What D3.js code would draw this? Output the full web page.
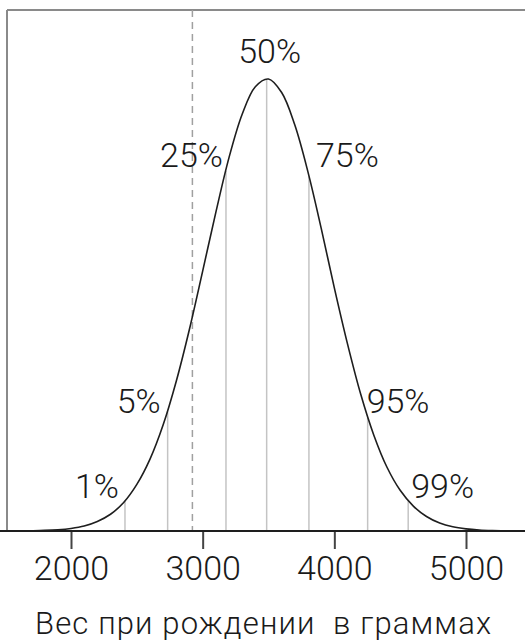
<!DOCTYPE html>
<html>
<head>
<meta charset="utf-8">
<script src="https://cdn.jsdelivr.net/npm/d3@7"></script>
<style>
  html, body { margin: 0; padding: 0; background: #fff; }
  svg { display: block; }
  text { font-family: Roboto, "DejaVu Sans", sans-serif; font-weight: 300; fill: #1a1a1a; }
</style>
</head>
<body>
<svg id="chart" width="525" height="642"></svg>
<script>
// ---- Data ----
// Birth weight (g) and relative density of the bell curve (peak = 1)
const curveWeights = [1500,1600,1700,1800,1900,2000,2100,2200,2300,2400,2500,2600,2700,2800,2900,
  3000,3100,3200,3300,3400,3500,3600,3700,3800,3900,4000,4100,4200,4300,4400,4500,4600,4700,4800,
  4900,5000,5100,5200,5300,5400,5500];
const curveDensity = [0.0001,0.0002,0.0006,0.0013,0.0028,0.0057,0.011,0.021,0.037,0.063,0.103,0.159,
  0.235,0.332,0.447,0.575,0.705,0.826,0.922,0.983,1.0,0.970,0.898,0.794,0.670,0.538,0.414,0.303,
  0.212,0.141,0.090,0.055,0.032,0.0175,0.0092,0.0047,0.0022,0.0010,0.00045,0.0002,0.0001];

// Percentile markers
const percentileLabels = ["1%","5%","25%","50%","75%","95%","99%"];
const percentileWeights = [2410, 2734, 3177, 3486, 3807, 4253, 4561];

// Dashed reference line
const dashedWeight = 2922;

// Axis ticks
const tickValues = [2000, 3000, 4000, 5000];
const axisTitle = "Вес при рождении  в граммах";

// ---- Layout ----
const svg = d3.select("#chart");
const x = d3.scaleLinear().domain([2000, 5000]).range([71, 466]);
const y = d3.scaleLinear().domain([0, 1]).range([531, 79]);
const frameLeft = 7, frameTop = 10, right = 525, baseY = y(0);

const pts = curveWeights.map((w, i) => [w, curveDensity[i]]);
const densityAt = w => {
  const i = d3.bisector(d => d[0]).left(pts, w);
  if (i <= 0) return pts[0][1];
  const a = pts[i - 1], b = pts[i];
  const t = (w - a[0]) / (b[0] - a[0]);
  return Math.exp(Math.log(a[1]) * (1 - t) + Math.log(b[1]) * t);
};

svg.append("clipPath").attr("id", "clip")
  .append("rect").attr("x", frameLeft).attr("y", frameTop).attr("width", right - frameLeft).attr("height", baseY - frameTop);

// frame
svg.append("line").attr("x1", frameLeft).attr("x2", right).attr("y1", frameTop).attr("y2", frameTop)
  .attr("stroke", "#8a8a8a").attr("stroke-width", 2);
svg.append("line").attr("x1", frameLeft).attr("x2", frameLeft).attr("y1", frameTop).attr("y2", baseY)
  .attr("stroke", "#8a8a8a").attr("stroke-width", 2);

// dashed line
svg.append("line").attr("x1", x(dashedWeight)).attr("x2", x(dashedWeight))
  .attr("y1", frameTop).attr("y2", baseY)
  .attr("stroke", "#a0a0a0").attr("stroke-width", 1.5).attr("stroke-dasharray", "7,5");

// percentile verticals
svg.append("g").selectAll("line").data(percentileWeights).join("line")
  .attr("x1", d => x(d)).attr("x2", d => x(d))
  .attr("y1", baseY).attr("y2", d => y(densityAt(d)))
  .attr("stroke", "#c4c4c4").attr("stroke-width", 1.5);

// curve
const line = d3.line().x(d => x(d[0])).y(d => y(d[1])).curve(d3.curveCatmullRom);
svg.append("path").datum(pts).attr("d", line)
  .attr("clip-path", "url(#clip)")
  .attr("fill", "none").attr("stroke", "#1e1e1e").attr("stroke-width", 1.6);

// baseline axis
const axis = d3.axisBottom(x).tickValues(tickValues).tickSize(18).tickPadding(7).tickFormat(d3.format("d"));
const gAxis = svg.append("g").attr("transform", `translate(0,${baseY})`).call(axis);
gAxis.select(".domain").remove();
gAxis.selectAll(".tick line").attr("stroke", "#444").attr("stroke-width", 2);
gAxis.selectAll(".tick text").attr("font-size", 34).attr("fill", "#1a1a1a")
  .style("font-family", "Roboto, sans-serif").style("font-weight", 300).attr("dy", "0.71em");
svg.append("line").attr("x1", 0).attr("x2", right).attr("y1", baseY).attr("y2", baseY)
  .attr("stroke", "#1e1e1e").attr("stroke-width", 2);

// percentile labels (offsets relative to the markers)
const labelLayout = [
  {dx: -6, level: 0.073, anchor: "end"},
  {dx: -7, level: 0.261, anchor: "end"},
  {dx: -3, level: 0.805, anchor: "end"},
  {dx: 3,  level: 1.035, anchor: "middle"},
  {dx: 7,  level: 0.805, anchor: "start"},
  {dx: -1, level: 0.261, anchor: "start"},
  {dx: 3,  level: 0.073, anchor: "start"}
];
svg.append("g").selectAll("text").data(percentileLabels).join("text")
  .attr("x", (d, i) => x(percentileWeights[i]) + labelLayout[i].dx)
  .attr("y", (d, i) => y(labelLayout[i].level))
  .attr("text-anchor", (d, i) => labelLayout[i].anchor)
  .attr("font-size", 34)
  .text(d => d);

// axis title
svg.append("text").attr("x", 263).attr("y", 634).attr("text-anchor", "middle")
  .attr("font-size", 31).style("white-space", "pre").attr("textLength", 456)
  .attr("lengthAdjust", "spacing").text(axisTitle);
</script>
</body>
</html>
